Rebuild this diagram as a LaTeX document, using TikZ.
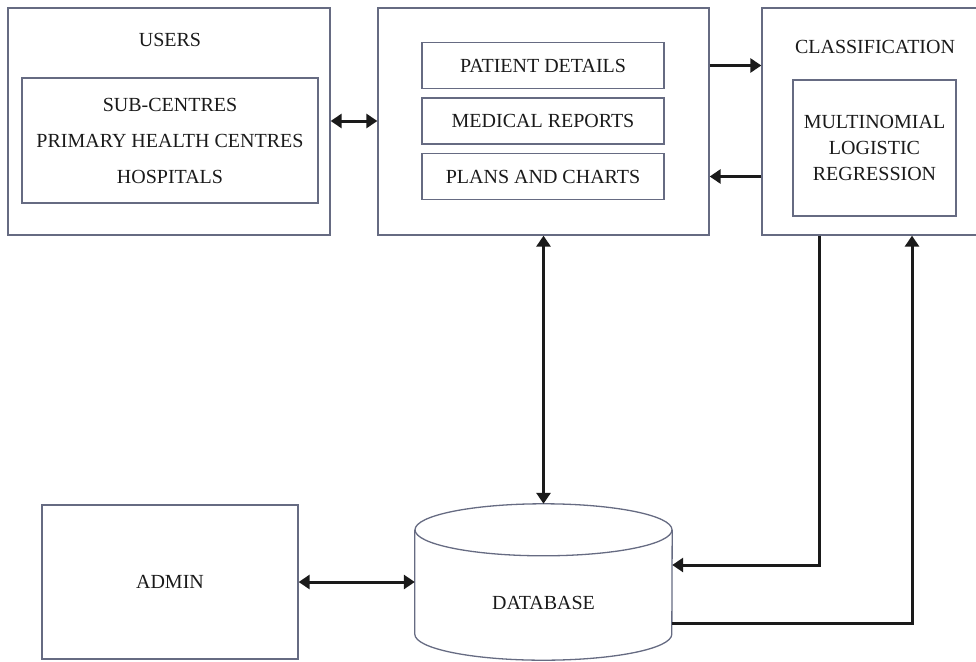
\documentclass[tikz,border=0pt]{standalone}
\usepackage{fontspec}
\setmainfont{Liberation Serif}
\usetikzlibrary{arrows.meta}
\definecolor{hmsFrame}{HTML}{666B82}
\definecolor{hmsInk}{HTML}{1A1A1A}
\tikzset{
  hms box/.style={draw=hmsFrame, line width=1.3pt, inner sep=0pt},
  hms text/.style={font=\fontsize{20}{26}\selectfont, text=hmsInk, align=center},
  hms arrow/.style={draw=hmsInk, line width=3pt, -{Triangle[length=11pt,width=14pt]}},
  hms both/.style={hms arrow, {Triangle[length=11pt,width=14pt]}-{Triangle[length=11pt,width=14pt]}},
}
\begin{document}
\begin{tikzpicture}[x=1pt,y=-1pt]
  \useasboundingbox (0,0) rectangle (976,661);

  % Users
  \node[hms box, minimum width=322pt, minimum height=227pt] (users) at (169,121.5) {};
  \node[hms text] (userslbl) at (170,40) {USERS};
  \node[hms box, hms text, font=\fontsize{20}{36}\selectfont, minimum width=296pt, minimum height=125pt] (sites) at (170,140.5) {SUB-CENTRES\\PRIMARY HEALTH CENTRES\\HOSPITALS};

  % Records
  \node[hms box, minimum width=331pt, minimum height=227pt] (mid) at (543.5,121.5) {};
  \node[hms box, hms text, minimum width=242pt, minimum height=46pt] (pd) at (543,65.5) {PATIENT DETAILS};
  \node[hms box, hms text, minimum width=242pt, minimum height=46pt] (mr) at (543,121) {MEDICAL REPORTS};
  \node[hms box, hms text, minimum width=242pt, minimum height=46pt] (pc) at (543,176.5) {PLANS AND CHARTS};

  % Classification
  \node[hms box, minimum width=215pt, minimum height=227pt] (cls) at (869.5,121.5) {};
  \node[hms text] (clslbl) at (875,47) {CLASSIFICATION};
  \node[hms box, hms text, minimum width=163pt, minimum height=136pt] (mlr) at (874.5,148) {MULTINOMIAL\\LOGISTIC\\REGRESSION};

  % Admin and database
  \node[hms box, hms text, minimum width=256pt, minimum height=154pt] (admin) at (170,582) {ADMIN};
  \node[minimum width=257pt, minimum height=156pt, inner sep=0pt] (db) at (543.5,582) {};
  \draw[hms box] ([yshift=-26pt]db.north west) -- ([yshift=26pt]db.south west)
    arc[start angle=180, end angle=360, x radius=128.5pt, y radius=26pt] -- ([yshift=-26pt]db.north east);
  \draw[hms box] ([yshift=-26pt]db.north) ellipse[x radius=128.5pt, y radius=26pt];
  \node[hms text] (dblbl) at (543.5,603) {DATABASE};

  % Connectors
  \draw[hms both] (users.east |- mr) -- (mid.west |- mr);
  \draw[hms arrow] (mid.east |- pd) -- (cls.west |- pd);
  \draw[hms arrow] (cls.west |- pc) -- (mid.east |- pc);
  \draw[hms both] (mid.south) -- (db.north);
  \draw[hms arrow] ([xshift=-50.5pt]cls.south) |- ([yshift=17pt]db.east);
  \draw[hms arrow] ([yshift=-41pt]db.east) -| ([xshift=42.5pt]cls.south);
  \draw[hms both] (admin.east) -- (db.west);
\end{tikzpicture}
\end{document}
